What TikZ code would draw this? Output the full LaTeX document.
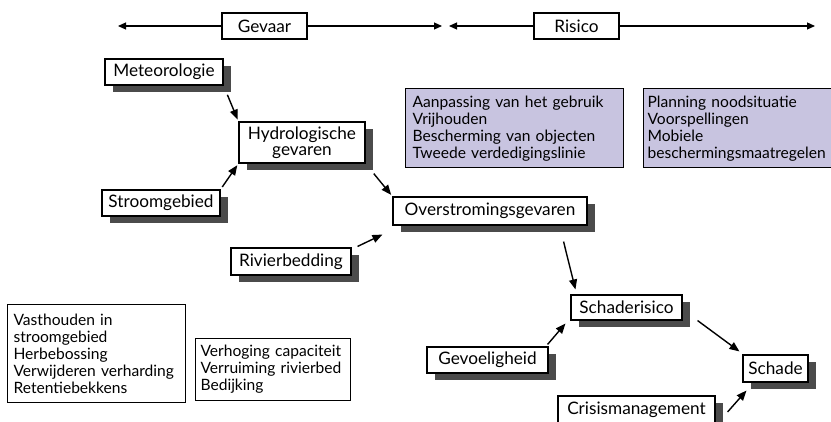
\documentclass[tikz,border=0pt]{standalone}
\usepackage{fontspec}
\setmainfont{Lato}
\usetikzlibrary{arrows.meta,shadows,calc}
\definecolor{lila}{RGB}{200,196,224}
\definecolor{shade}{RGB}{75,75,75}
\tikzset{
  lbl/.style={draw=black,line width=1.1pt,fill=white,inner sep=0pt,align=center,
    font=\fontsize{17.2}{17}\selectfont,
    drop shadow={shadow xshift=8pt,shadow yshift=-7pt,opacity=1,fill=shade}},
  hdr/.style={draw=black,line width=1.1pt,fill=white,inner sep=0pt,align=center,
    font=\fontsize{17.2}{17}\selectfont},
  listbox/.style={draw=black,line width=1.1pt,inner sep=6pt,align=left,anchor=north west,
    font=\fontsize{15.6}{17}\selectfont},
  arr/.style={line width=1.4pt,-{Triangle[length=10pt,width=8pt]}},
  harr/.style={line width=1.2pt,-{Triangle[length=8pt,width=7pt]}}
}
\begin{document}
\begin{tikzpicture}[x=1pt,y=-1pt]
\useasboundingbox (0,0) rectangle (831,422);
\clip (0,0) rectangle (831,422);
% header arrows
\coordinate (gl) at (118,26);
\coordinate (gr) at (442,26);
\coordinate (rl) at (449,26);
\coordinate (rr) at (815,26);
\node[hdr,minimum width=85pt,minimum height=26pt] (gevaar) at (264.5,26) {Gevaar};
\node[hdr,minimum width=85pt,minimum height=26pt] (risico) at (576.5,26) {Risico};
\draw[harr] (gevaar.west) -- (gl);
\draw[harr] (gevaar.east) -- (gr);
\draw[harr] (risico.west) -- (rl);
\draw[harr] (risico.east) -- (rr);
% boxes
\node[lbl,minimum width=118pt,minimum height=26pt] (met) at (164,72) {Meteorologie};
\node[lbl,minimum width=126pt,minimum height=41pt,font=\fontsize{17.2}{16.5}\selectfont] (hydro) at (302,142.5) {Hydrologische\\gevaren};
\node[lbl,minimum width=118pt,minimum height=26pt] (stroom) at (161,203) {Stroomgebied};
\node[lbl,minimum width=194pt,minimum height=28pt] (over) at (490,211) {Overstromingsgevaren};
\node[lbl,minimum width=120pt,minimum height=27pt] (riv) at (291,261.5) {Rivierbedding};
\node[lbl,minimum width=111pt,minimum height=25pt] (scha) at (626.5,307.5) {Schaderisico};
\node[lbl,minimum width=121pt,minimum height=26pt] (gev) at (487.5,360) {Gevoeligheid};
\node[lbl,minimum width=65pt,minimum height=27pt] (schade) at (775.5,368.5) {Schade};
\node[lbl,minimum width=157pt,minimum height=27pt] (crisis) at (636.5,409.5) {Crisismanagement};
% list boxes
\node[listbox,fill=lila,minimum width=218pt,minimum height=78pt,text width=204pt,inner sep=7pt] (p1) at (405,88) {Aanpassing van het gebruik\\Vrijhouden\\Bescherming van objecten\\Tweede verdedigingslinie};
\node[listbox,fill=lila,minimum width=200pt,minimum height=78pt,text width=196pt,inner xsep=4pt,inner ysep=7pt] (p2) at (643,88) {Planning noodsituatie\\Voorspellingen\\Mobiele\\beschermingsmaatregelen};
\node[listbox,fill=white,minimum width=178pt,minimum height=98pt,text width=166pt] (vast) at (7,304) {Vasthouden in\\stroomgebied\\Herbebossing\\Verwijderen verharding\\Retentiebekkens};
\node[listbox,fill=white,minimum width=155pt,minimum height=62pt,text width=145pt,inner xsep=5pt] (verh) at (195,338) {Verhoging capaciteit\\Verruiming rivierbed\\Bedijking};
% arrows
\draw[arr,shorten <=10pt,shorten >=2pt] (met.south east) -- (hydro.north west);
\draw[arr,shorten <=3pt,shorten >=2pt] (stroom.north east) -- (hydro.south west);
\draw[arr,shorten <=13pt,shorten >=2pt] (hydro.south east) -- (over.north west);
\draw[arr] ([xshift=6pt,yshift=1pt]riv.north east) -- ([xshift=-10pt,yshift=-9pt]over.south west);
\draw[arr] ([xshift=-24pt,yshift=-16pt]over.south east) -- ([xshift=5pt,yshift=5pt]scha.north west);
\draw[arr] ([xshift=-1pt,yshift=2pt]gev.north east) -- ([xshift=-5pt,yshift=-3pt]scha.south west);
\draw[arr] ([xshift=15pt]scha.south east) -- ([xshift=-3pt,yshift=3pt]schade.north west);
\draw[arr] ([xshift=12pt,yshift=-2.5pt]crisis.east) -- ([xshift=4pt,yshift=-8pt]schade.south west);
\end{tikzpicture}
\end{document}
